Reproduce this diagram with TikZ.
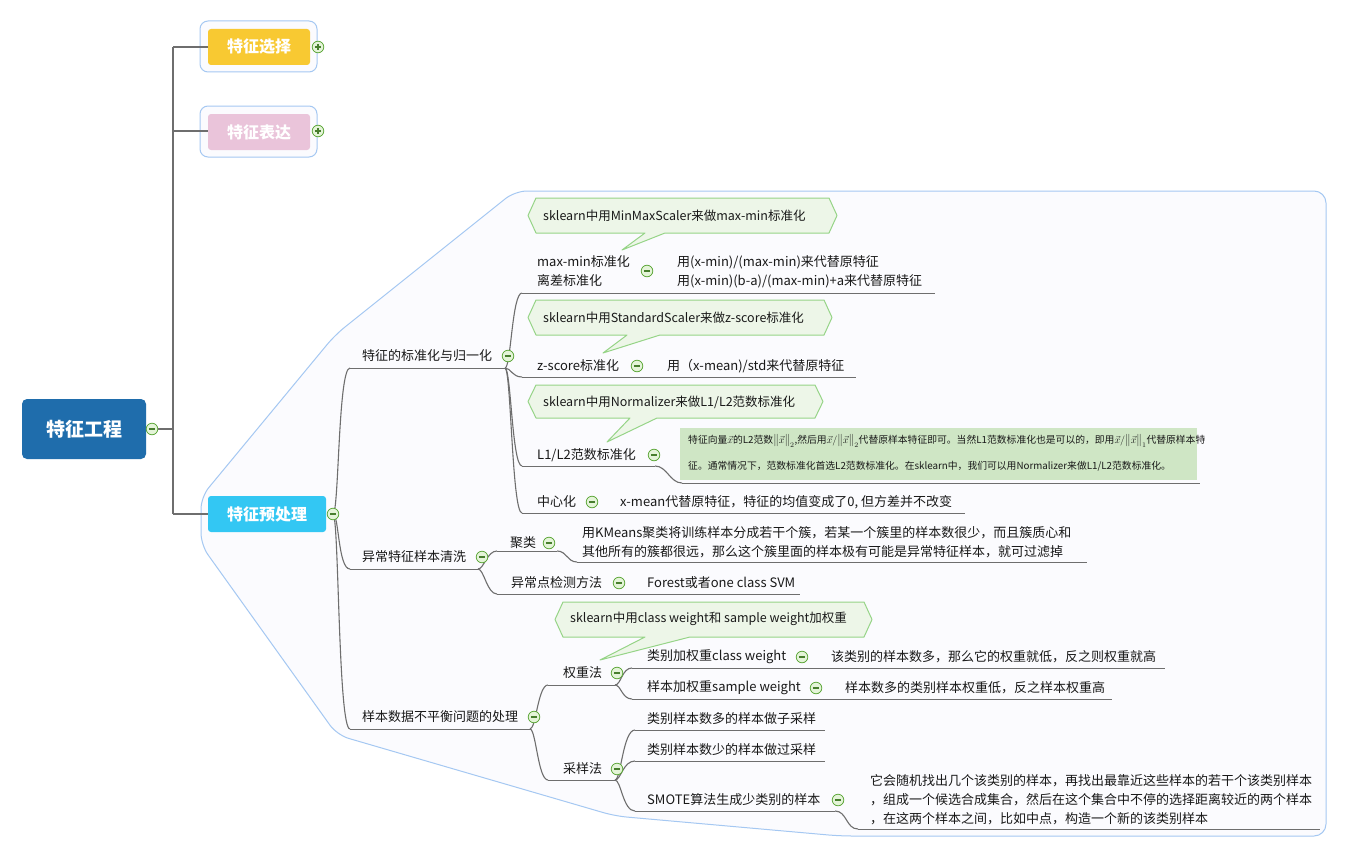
\documentclass[tikz,border=0pt]{standalone}
\usepackage{fontspec}
\setmainfont{Noto Sans CJK SC}
\usetikzlibrary{calc}
\definecolor{rootblue}{RGB}{31,109,172}
\definecolor{selyellow}{RGB}{248,201,50}
\definecolor{exppink}{RGB}{234,196,218}
\definecolor{precyan}{RGB}{51,199,243}
\definecolor{bndline}{RGB}{165,200,242}
\definecolor{bndfill}{RGB}{251,251,254}
\definecolor{linegray}{RGB}{110,110,110}
\definecolor{calfill}{RGB}{237,246,232}
\definecolor{calline}{RGB}{150,212,135}
\definecolor{notefill}{RGB}{207,230,197}
\definecolor{icongreen}{RGB}{95,168,60}
\definecolor{iconfill}{RGB}{228,244,216}
\definecolor{txt}{RGB}{25,25,25}
\tikzset{
  conn/.style={draw=linegray, line width=1.1pt},
  uline/.style={draw=linegray, line width=1pt},
  lbl/.style={anchor=west, inner sep=0pt, font=\fontsize{13}{19}\selectfont, text=txt, align=left},
  notetxt/.style={anchor=west, inner sep=0pt, font=\fontsize{9.8}{12}\selectfont, text=txt},
  calloutshape/.style={draw=calline, fill=calfill, line width=1pt, line join=round},
  cltext/.style={anchor=west, inner sep=0pt, font=\fontsize{12.5}{15}\selectfont, text=txt},
  topbox/.style={rounded corners=3pt, inner sep=0pt, text=white, font=\fontsize{16}{18}\selectfont\bfseries},
  bound/.style={draw=bndline, fill=bndfill, line width=1pt},
  pics/minusic/.style={code={
    \draw[icongreen, fill=iconfill, line width=0.8pt] (0,0) circle (5.8);
    \draw[icongreen!75!black, line width=1.3pt] (-3.2,0) -- (3.2,0);}},
  pics/plusic/.style={code={
    \draw[icongreen, fill=iconfill, line width=0.8pt] (0,0) circle (5.8);
    \draw[icongreen!75!black, line width=1.3pt] (-3.2,0) -- (3.2,0) (0,-3.2) -- (0,3.2);}},
}
\newcommand\curvelink[4]{\draw[conn] (#1) .. controls +(#3,0) and +(-#4,0) .. (#2);}
\newcommand\calloutpath[8]{%
  \draw[calloutshape] (#1,{(#2+#4)/2}) -- ({#1+8},#2) -- ({#3-8},#2) -- (#3,{(#2+#4)/2}) -- ({#3-8},#4)
   -- (#6,#4) -- (#7,#8) -- (#5,#4) -- ({#1+8},#4) -- cycle;}
\newcommand\vnorm[1]{\big\|\vec{x}\big\|_{#1}}
\begin{document}
\begin{tikzpicture}[x=1pt,y=-1pt]
\useasboundingbox (0,0) rectangle (1347,859);
\fill[white] (0,0) rectangle (1347,859);

% boundaries
\draw[bound, rounded corners=8pt] (200,21) rectangle (317,72);
\draw[bound, rounded corners=8pt] (200,106) rectangle (317,157);
\draw[bound, rounded corners=12pt] (201,545) -- (201,497) -- (335,335) -- (515,191) -- (1326,191)
   -- (1326,836) -- (840,836) -- (615,816) -- (337,735) -- cycle;

% trunk connectors
\coordinate (tj) at (173,429);
\coordinate (t1) at (173,47);
\coordinate (t2) at (173,131);
\coordinate (t3) at (173,514);
\draw[conn] (158,429) -- (tj);
\draw[conn] (t1) -- (t3);

% top level nodes
\node[topbox, fill=rootblue, minimum width=124pt, minimum height=60pt, rounded corners=5pt,
      font=\fontsize{19}{22}\selectfont\bfseries] (root) at (84,429) {特征工程};
\node[topbox, fill=selyellow, minimum width=102pt, minimum height=36pt] (sel) at (259,47) {特征选择};
\node[topbox, fill=exppink, minimum width=102pt, minimum height=36pt] (expr) at (259,132) {特征表达};
\node[topbox, fill=precyan, minimum width=118pt, minimum height=36pt] (pre) at (267,514) {特征预处理};
\draw[conn] (t1) -- (sel.west);
\draw[conn] (t2) -- (expr.west |- t2);
\draw[conn] (t3) -- (pre.west);

% callouts
\calloutpath{528}{198}{837}{233}{645}{665}{622}{250}
\node[cltext] (c1) at (543,216) {sklearn中用MinMaxScaler来做max-min标准化};
\calloutpath{528}{300}{832}{335}{627}{660}{603}{353}
\node[cltext] (c2) at (543,318) {sklearn中用StandardScaler来做z-score标准化};
\calloutpath{528}{385}{823}{418}{630}{657}{607}{442}
\node[cltext] (c3) at (543,402) {sklearn中用Normalizer来做L1/L2范数标准化};
\calloutpath{555}{602}{872}{637}{645}{690}{600}{660}
\node[cltext] (c4) at (570,619) {sklearn中用class weight和 sample weight加权重};

% green note
\fill[notefill] (680,428) rectangle (1197,480);
\node[notetxt] (note1) at (688,441) {特征向量$\vec{x}$的L2范数$\vnorm{2}$,然后用$\vec{x}/\vnorm{2}$代替原样本特征即可。当然L1范数标准化也是可以的，即用$\vec{x}/\vnorm{1}$代替原样本特};
\node[notetxt] (note2) at (688,466) {征。通常情况下，范数标准化首选L2范数标准化。在sklearn中，我们可以用Normalizer来做L1/L2范数标准化。};

% level 2
\coordinate (h0) at (333,514);
\coordinate (a1) at (350,368); \coordinate (h1) at (505,368);
\coordinate (a2) at (350,569); \coordinate (h2) at (478,569);
\coordinate (a3) at (350,729); \coordinate (h3) at (530,729);
\curvelink{h0}{a1}{6}{12}
\curvelink{h0}{a2}{6}{12}
\curvelink{h0}{a3}{6}{12}
\draw[uline] (a1) -- (h1);
\draw[uline] (a2) -- (h2);
\draw[uline] (a3) -- (h3);
\node[lbl] (n1) at (362,356) {特征的标准化与归一化};
\node[lbl] (n2) at (362,557) {异常特征样本清洗};
\node[lbl] (n3) at (362,717) {样本数据不平衡问题的处理};

% level 3 under n1
\coordinate (b1) at (522,293); \coordinate (b1e) at (935,293);
\coordinate (b2) at (522,377); \coordinate (b2e) at (856,377);
\coordinate (b3) at (522,466); \coordinate (b3m) at (655,466); \coordinate (b3n) at (682,483); \coordinate (b3e) at (1200,483);
\coordinate (b4) at (522,513); \coordinate (b4e) at (965,513);
\curvelink{h1}{b1}{6}{10}
\curvelink{h1}{b2}{6}{10}
\curvelink{h1}{b3}{6}{10}
\curvelink{h1}{b4}{6}{10}
\draw[uline] (b1) -- (b1e);
\draw[uline] (b2) -- (b2e);
\draw[uline] (b3) -- (b3m);
\curvelink{b3m}{b3n}{12}{12}
\draw[uline] (b3n) -- (b3e);
\draw[uline] (b4) -- (b4e);
\node[lbl] (mm) at (537,271.5) {max-min标准化\\离差标准化};
\node[lbl] (mmc) at (677,271.5) {用(x-min)/(max-min)来代替原特征\\用(x-min)(b-a)/(max-min)+a来代替原特征};
\node[lbl] (zs) at (537,366) {z-score标准化};
\node[lbl] (zsc) at (667,366) {用（x-mean)/std来代替原特征};
\node[lbl] (l12) at (537,455) {L1/L2范数标准化};
\node[lbl] (cen) at (537,502) {中心化};
\node[lbl] (cenc) at (620,502) {x-mean代替原特征，特征的均值变成了0, 但方差并不改变};

% level 3 under n2
\coordinate (d1) at (497,551); \coordinate (d1m) at (557,551); \coordinate (d1n) at (577,562); \coordinate (d1e) at (1087,562);
\coordinate (d2) at (497,594); \coordinate (d2e) at (800,594);
\curvelink{h2}{d1}{6}{10}
\curvelink{h2}{d2}{6}{10}
\draw[uline] (d1) -- (d1m);
\curvelink{d1m}{d1n}{10}{10}
\draw[uline] (d1n) -- (d1e);
\draw[uline] (d2) -- (d2e);
\node[lbl] (jl) at (510,543) {聚类};
\node[lbl] (jlc) at (582,542.5) {用KMeans聚类将训练样本分成若干个簇，若某一个簇里的样本数很少，而且簇质心和\\其他所有的簇都很远，那么这个簇里面的样本极有可能是异常特征样本，就可过滤掉};
\node[lbl] (yc) at (511,583) {异常点检测方法};
\node[lbl] (ycc) at (647,583) {Forest或者one class SVM};

% level 3 under n3
\coordinate (e1) at (548,685); \coordinate (g1) at (615,685);
\coordinate (e2) at (548,780); \coordinate (g2) at (615,780);
\curvelink{h3}{e1}{6}{10}
\curvelink{h3}{e2}{6}{10}
\draw[uline] (e1) -- (g1);
\draw[uline] (e2) -- (g2);
\node[lbl] (qz) at (563,673) {权重法};
\node[lbl] (cy) at (563,769) {采样法};

\coordinate (f1) at (632,668); \coordinate (f1e) at (1165,668);
\coordinate (f2) at (632,699); \coordinate (f2e) at (1112,699);
\curvelink{g1}{f1}{6}{10}
\curvelink{g1}{f2}{6}{10}
\draw[uline] (f1) -- (f1e);
\draw[uline] (f2) -- (f2e);
\node[lbl] (lb) at (647,657) {类别加权重class weight};
\node[lbl] (lbc) at (831,657) {该类别的样本数多，那么它的权重就低，反之则权重就高};
\node[lbl] (yb) at (647,688) {样本加权重sample weight};
\node[lbl] (ybc) at (845,688) {样本数多的类别样本权重低，反之样本权重高};

\coordinate (k1) at (635,730); \coordinate (k1e) at (825,730);
\coordinate (k2) at (635,761); \coordinate (k2e) at (825,761);
\coordinate (k3) at (635,811); \coordinate (k3m) at (835,811); \coordinate (k3n) at (858,829); \coordinate (k3e) at (1320,829);
\curvelink{g2}{k1}{6}{12}
\curvelink{g2}{k2}{6}{12}
\curvelink{g2}{k3}{6}{12}
\draw[uline] (k1) -- (k1e);
\draw[uline] (k2) -- (k2e);
\draw[uline] (k3) -- (k3m);
\curvelink{k3m}{k3n}{12}{12}
\draw[uline] (k3n) -- (k3e);
\node[lbl] (cy1) at (647,719) {类别样本数多的样本做子采样};
\node[lbl] (cy2) at (647,750) {类别样本数少的样本做过采样};
\node[lbl] (sm) at (647,800) {SMOTE算法生成少类别的样本};
\node[lbl] (smc) at (870,800) {它会随机找出几个该类别的样本，再找出最靠近这些样本的若干个该类别样本\\，组成一个候选合成集合，然后在这个集合中不停的选择距离较近的两个样本\\，在这两个样本之间，比如中点，构造一个新的该类别样本};

% icons
\pic at (152,429) {minusic};
\pic at (318,47) {plusic};
\pic at (318,131) {plusic};
\pic at (333,514) {minusic};
\pic at (508,356) {minusic};
\pic at (482,557) {minusic};
\pic at (534,717) {minusic};
\pic at (647,271) {minusic};
\pic at (637,366) {minusic};
\pic at (654,455) {minusic};
\pic at (592,502) {minusic};
\pic at (549,543) {minusic};
\pic at (619,583) {minusic};
\pic at (617,673) {minusic};
\pic at (802,657) {minusic};
\pic at (816,688) {minusic};
\pic at (617,769) {minusic};
\pic at (838,800) {minusic};
\end{tikzpicture}
\end{document}
